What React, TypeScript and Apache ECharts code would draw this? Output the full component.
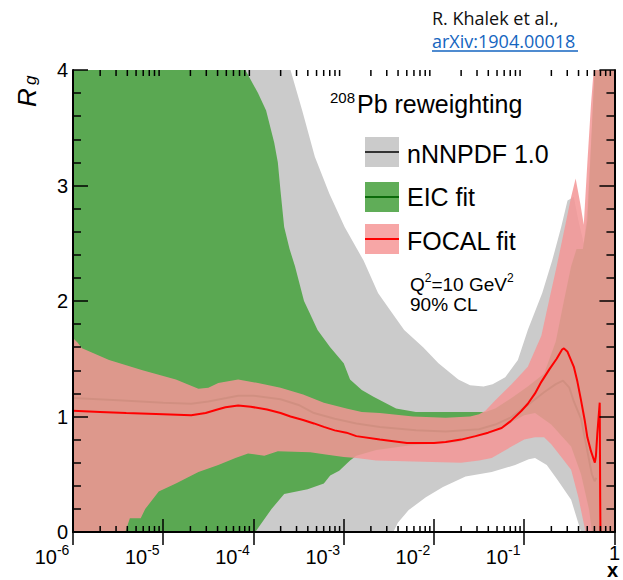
import React, { useEffect, useRef } from "react";
import * as echarts from "echarts";

// ---- data: [log10(x), R_g] ----
const grayUpper = [[-6,4],[-3.59,4],[-3.46,3.65],[-3.32,3.25],[-3.16,2.93],[-2.99,2.64],[-2.78,2.35],[-2.62,2.07],[-2.45,1.88],[-2.33,1.75],[-2.12,1.6],[-1.95,1.46],[-1.73,1.32],[-1.6,1.27],[-1.45,1.26],[-1.35,1.28],[-1.21,1.34],[-1.07,1.49],[-0.96,1.75],[-0.8,2.07],[-0.69,2.35],[-0.59,2.64],[-0.52,2.87],[-0.45,2.9],[-0.4,2.7],[-0.34,2.5],[-0.3,2.8],[-0.25,3.5],[-0.22,4],[0,4]];
const grayLower = [[-6,0],[-2.45,0],[-2.4,0.08],[-2.28,0.19],[-2.09,0.3],[-1.9,0.39],[-1.65,0.48],[-1.36,0.52],[-1.1,0.58],[-0.95,0.63],[-0.88,0.64],[-0.75,0.58],[-0.63,0.45],[-0.48,0.28],[-0.37,0],[0,0]];
const greenUpper = [[-6,4],[-4.09,4],[-3.95,3.8],[-3.86,3.65],[-3.77,3.37],[-3.73,3.2],[-3.7,2.95],[-3.66,2.64],[-3.6,2.45],[-3.54,2.3],[-3.44,2.0],[-3.38,1.9],[-3.29,1.75],[-3.15,1.6],[-3.0,1.46],[-2.93,1.32],[-2.8,1.23],[-2.67,1.17],[-2.42,1.07],[-2.2,1.04],[-1.6,1.04],[-1.43,1.04],[-1.32,1.07],[-1.14,1.16],[-0.96,1.26],[-0.78,1.37],[-0.65,1.65],[-0.56,2.0],[-0.48,2.3],[-0.42,2.45],[-0.35,2.45],[-0.3,2.7],[-0.25,3.5],[-0.22,4],[0,4]];
const greenLower = [[-6,0],[-3.98,0],[-3.8,0.2],[-3.66,0.33],[-3.4,0.37],[-3.22,0.42],[-3.15,0.49],[-3.05,0.53],[-2.93,0.62],[-2.86,0.66],[-2.64,0.71],[-2.28,0.75],[-1.73,0.78],[-1.36,0.86],[-1.14,0.95],[-1.0,1.01],[-0.88,1.03],[-0.7,0.93],[-0.55,0.8],[-0.48,0.74],[-0.37,0.5],[-0.28,0.19],[-0.25,0],[0,0]];
const pinkUpper = [[-6,1.68],[-5.95,1.64],[-5.9,1.59],[-5.6,1.49],[-5.23,1.4],[-4.86,1.32],[-4.61,1.24],[-4.5,1.25],[-4.39,1.29],[-4.17,1.32],[-3.95,1.29],[-3.7,1.25],[-3.45,1.19],[-3.22,1.12],[-2.97,1.07],[-2.8,1.04],[-2.6,1.03],[-2.23,1.0],[-1.87,0.99],[-1.6,1.0],[-1.5,1.02],[-1.43,1.05],[-1.32,1.14],[-1.14,1.28],[-0.96,1.43],[-0.81,1.7],[-0.74,1.95],[-0.64,2.3],[-0.56,2.6],[-0.48,2.9],[-0.43,3.06],[-0.38,2.85],[-0.34,2.66],[-0.3,3.2],[-0.26,3.7],[-0.23,4],[0,4]];
const pinkLower = [[-6,0],[-5.42,0],[-5.37,0.12],[-5.25,0.12],[-5.2,0.2],[-5.05,0.35],[-4.86,0.42],[-4.61,0.52],[-4.39,0.58],[-4.2,0.64],[-4.06,0.68],[-3.88,0.66],[-3.73,0.7],[-3.37,0.69],[-3.2,0.67],[-3.0,0.65],[-2.86,0.64],[-2.64,0.62],[-2.23,0.61],[-1.7,0.6],[-1.5,0.62],[-1.36,0.64],[-1.14,0.74],[-1.0,0.8],[-0.88,0.82],[-0.78,0.82],[-0.7,0.76],[-0.6,0.66],[-0.48,0.54],[-0.4,0.3],[-0.32,0],[0,0]];
const nnpdfCentral = [[-6,1.37],[-5.5,1.33],[-5,1.29],[-4.69,1.26],[-4.5,1.26],[-4.3,1.29],[-4.17,1.3],[-4.0,1.29],[-3.7,1.26],[-3.5,1.2],[-3.33,1.13],[-3.1,1.08],[-2.86,1.03],[-2.6,0.99],[-2.2,0.96],[-1.87,0.95],[-1.5,0.96],[-1.32,0.98],[-1.15,1.05],[-0.96,1.16],[-0.78,1.27],[-0.65,1.33],[-0.57,1.36],[-0.5,1.31],[-0.45,1.2],[-0.37,1.06],[-0.3,0.8],[-0.25,0.6],[-0.22,0.52],[-0.2,0.55]];
const eicCentral = [[-6,1.16],[-5.5,1.14],[-5,1.12],[-4.69,1.11],[-4.5,1.13],[-4.3,1.16],[-4.17,1.18],[-4.0,1.18],[-3.7,1.15],[-3.5,1.1],[-3.33,1.03],[-3.1,0.98],[-2.86,0.94],[-2.6,0.91],[-2.2,0.88],[-1.87,0.87],[-1.5,0.89],[-1.32,0.93],[-1.15,0.99],[-0.96,1.1],[-0.78,1.21],[-0.65,1.28],[-0.57,1.31],[-0.5,1.25],[-0.45,1.13],[-0.37,0.98],[-0.3,0.7],[-0.25,0.5],[-0.22,0.44],[-0.2,0.47]];
const focalCentral = [[-6,1.05],[-5.7,1.04],[-5.41,1.03],[-5,1.02],[-4.69,1.01],[-4.53,1.03],[-4.4,1.06],[-4.31,1.08],[-4.17,1.095],[-4.03,1.085],[-3.85,1.06],[-3.7,1.03],[-3.59,1.0],[-3.45,0.97],[-3.33,0.94],[-3.22,0.91],[-3.1,0.88],[-2.97,0.86],[-2.86,0.83],[-2.6,0.8],[-2.3,0.77],[-2.0,0.77],[-1.87,0.78],[-1.7,0.8],[-1.54,0.83],[-1.4,0.86],[-1.25,0.9],[-1.15,0.96],[-1.03,1.05],[-0.96,1.11],[-0.88,1.2],[-0.81,1.3],[-0.72,1.41],[-0.64,1.5],[-0.58,1.58],[-0.56,1.59],[-0.52,1.56],[-0.45,1.43],[-0.41,1.3],[-0.37,1.14],[-0.33,0.97],[-0.3,0.82],[-0.26,0.7],[-0.217,0.6],[-0.205,0.66],[-0.19,0.85],[-0.175,1.0],[-0.163,1.12],[-0.158,0.3],[-0.155,0]];

const xDecades = [-6, -5, -4, -3, -2, -1];
const minorMultipliers = [2, 3, 4, 5, 6, 7, 8, 9];

const FONT = "'Liberation Sans', Arial, Helvetica, sans-serif";
const GRAY = "#cbcbcb";
const GREEN = "#5aa852";
const PINK = "rgba(243,150,150,0.855)";

const toPts = (arr: number[][]) => arr.map(([l, v]) => [Math.pow(10, l), v]);
const polygon = (up: number[][], lo: number[][]) => toPts(up).concat(toPts(lo).reverse());

function bandSeries(up: number[][], lo: number[][], color: string, z: number) {
  const poly = polygon(up, lo);
  return {
    type: "custom",
    coordinateSystem: "cartesian2d",
    clip: true,
    silent: true,
    z,
    data: poly,
    encode: { x: 0, y: 1 },
    renderItem: (params: any, api: any) => {
      if (params.dataIndex !== 0) return null;
      return {
        type: "polygon",
        shape: { points: poly.map((p) => api.coord(p)) },
        style: { fill: color, stroke: "none" },
      };
    },
  };
}

function lineSeries(arr: number[][], color: string, width: number, z: number) {
  return {
    type: "line",
    data: toPts(arr),
    showSymbol: false,
    silent: true,
    clip: true,
    z,
    lineStyle: { color, width },
  };
}

export default function App() {
  const ref = useRef<HTMLDivElement>(null);
  useEffect(() => {
    const chart = echarts.init(ref.current!, null, { renderer: "svg" });
    const minorVals: number[][] = [];
    xDecades.forEach((d) => minorMultipliers.forEach((m) => minorVals.push([m * Math.pow(10, d), 0])));

    const axisLine = { show: true, lineStyle: { color: "#000", width: 2 } };
    const xBase = {
      type: "log",
      logBase: 10,
      min: 1e-6,
      max: 1,
      z: 15,
      axisLine,
      splitLine: { show: false },
      axisTick: { show: true, inside: true, length: 13, lineStyle: { color: "#000", width: 1.5 } },
    };
    const yBase = {
      type: "value",
      min: 0,
      max: 4,
      interval: 1,
      z: 15,
      axisLine,
      splitLine: { show: false },
      axisTick: { show: true, inside: true, length: 15, lineStyle: { color: "#000", width: 1.5 } },
      minorTick: { show: true, splitNumber: 5, length: 8, lineStyle: { color: "#000", width: 1.5 } },
    };

    chart.setOption({
      animation: false,
      grid: { left: 73, right: 2, top: 70, bottom: 48, containLabel: false },
      xAxis: [
        {
          ...xBase,
          position: "bottom",
          axisLabel: {
            margin: 11,
            formatter: (v: number) => {
              const e = Math.round(Math.log10(v));
              return e === 0 ? "{o|1}" : "{b|10}{s|" + e + "}{p| }";
            },
            rich: {
              b: { fontSize: 20, fontFamily: FONT, color: "#000", lineHeight: 24, verticalAlign: "bottom" },
              o: { fontSize: 20, fontFamily: FONT, color: "#000", lineHeight: 16, verticalAlign: "top" },
              s: { fontSize: 14, fontFamily: FONT, color: "#000", lineHeight: 12, verticalAlign: "top" },
              p: { fontSize: 14, width: 42 },
            },
          },
        },
        { ...xBase, position: "top", axisLabel: { show: false } },
      ],
      yAxis: [
        {
          ...yBase,
          position: "left",
          axisLabel: { fontSize: 20, fontFamily: FONT, color: "#000", margin: 5 },
        },
        { ...yBase, position: "right", axisLabel: { show: false } },
      ],
      series: [
        bandSeries(grayUpper, grayLower, GRAY, 2),
        lineSeries(nnpdfCentral, "#000", 2, 3),
        bandSeries(greenUpper, greenLower, GREEN, 4),
        lineSeries(eicCentral, "#0b6b0b", 2, 5),
        bandSeries(pinkUpper, pinkLower, PINK, 6),
        lineSeries(focalCentral, "#ff0000", 2, 7),
        {
          type: "custom",
          coordinateSystem: "cartesian2d",
          silent: true,
          z: 12,
          data: minorVals,
          encode: { x: 0, y: 1 },
          renderItem: (params: any, api: any) => {
            const p = api.coord([api.value(0), 0]);
            const cs = params.coordSys;
            const yb = cs.y + cs.height;
            const yt = cs.y;
            return {
              type: "group",
              children: [
                { type: "line", shape: { x1: p[0], y1: yb, x2: p[0], y2: yb - 6 }, style: { stroke: "#000", lineWidth: 1.5 } },
                { type: "line", shape: { x1: p[0], y1: yt, x2: p[0], y2: yt + 6 }, style: { stroke: "#000", lineWidth: 1.5 } },
              ],
            };
          },
        },
      ],
      graphic: [
        { type: "text", x: 432, y: 18, style: { text: "R. Khalek et al.,", font: "18px 'Open Sans', sans-serif", fill: "#111", align: "left", verticalAlign: "middle" } },
        { type: "text", x: 432, y: 41, style: { text: "arXiv:1904.00018", font: "18px 'Open Sans', sans-serif", fill: "#1565c0", align: "left", verticalAlign: "middle" } },
        { type: "line", shape: { x1: 432, y1: 51, x2: 578, y2: 51 }, style: { stroke: "#1565c0", lineWidth: 1.5 } },
        { type: "text", x: 26.5, y: 107, rotation: Math.PI / 2, style: { text: "R", font: "italic 26px " + FONT, fill: "#000", align: "left", verticalAlign: "middle" } },
        { type: "text", x: 30, y: 85, rotation: Math.PI / 2, style: { text: "g", font: "italic 17px " + FONT, fill: "#000", align: "left", verticalAlign: "middle" } },
        { type: "text", x: 607, y: 569.5, style: { text: "x", font: "bold 20px " + FONT, fill: "#000", align: "left", verticalAlign: "middle" } },
        { type: "text", x: 330, y: 97, z: 20, style: { text: "208", font: "15px " + FONT, fill: "#000", align: "left", verticalAlign: "middle" } },
        { type: "text", x: 357, y: 104, z: 20, style: { text: "Pb reweighting", font: "25px " + FONT, fill: "#000", align: "left", verticalAlign: "middle" } },
        { type: "rect", z: 20, shape: { x: 365, y: 137, width: 34, height: 30 }, style: { fill: GRAY } },
        { type: "line", z: 21, shape: { x1: 365, y1: 152, x2: 399, y2: 152 }, style: { stroke: "#000", lineWidth: 1.5 } },
        { type: "text", x: 407, y: 154, z: 20, style: { text: "nNNPDF 1.0", font: "25px " + FONT, fill: "#000", align: "left", verticalAlign: "middle" } },
        { type: "rect", z: 20, shape: { x: 365, y: 182, width: 34, height: 30 }, style: { fill: "#60ad58" } },
        { type: "line", z: 21, shape: { x1: 365, y1: 197, x2: 399, y2: 197 }, style: { stroke: "#0b6b0b", lineWidth: 2 } },
        { type: "text", x: 407, y: 197, z: 20, style: { text: "EIC fit", font: "25px " + FONT, fill: "#000", align: "left", verticalAlign: "middle" } },
        { type: "rect", z: 20, shape: { x: 365, y: 224, width: 34, height: 30 }, style: { fill: "#f7a6a6" } },
        { type: "line", z: 21, shape: { x1: 365, y1: 239, x2: 399, y2: 239 }, style: { stroke: "#ff0000", lineWidth: 2 } },
        { type: "text", x: 407, y: 241, z: 20, style: { text: "FOCAL fit", font: "25px " + FONT, fill: "#000", align: "left", verticalAlign: "middle" } },
        {
          type: "text", x: 410, y: 283, z: 20,
          style: {
            text: "{n|Q}{s|2}{n|=10 GeV}{s|2}",
            align: "left", verticalAlign: "middle",
            rich: {
              n: { font: "19px " + FONT, fill: "#000", lineHeight: 22, verticalAlign: "bottom" },
              s: { font: "12px " + FONT, fill: "#000", lineHeight: 12, verticalAlign: "top" },
            },
          },
        },
        { type: "text", x: 410, y: 304, z: 20, style: { text: "90% CL", font: "19px " + FONT, fill: "#000", align: "left", verticalAlign: "middle" } },
      ],
    });
    return () => chart.dispose();
  }, []);
  return <div ref={ref} style={{ position: "absolute", left: 0, top: 0, width: 623, height: 580 }} />;
}
